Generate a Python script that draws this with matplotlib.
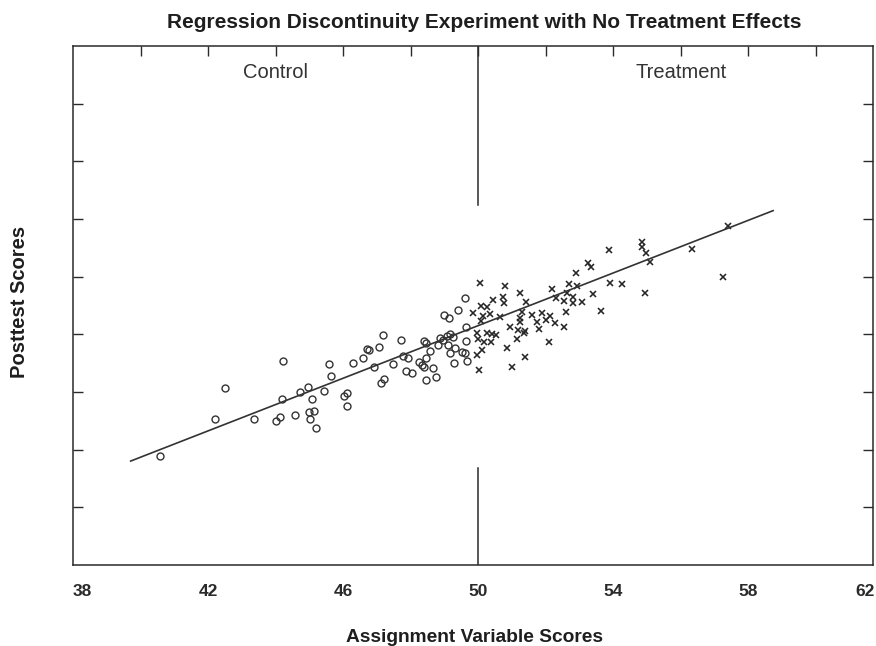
import matplotlib
matplotlib.use("Agg")
import matplotlib.pyplot as plt

plt.rcParams['font.family'] = ['Liberation Sans', 'DejaVu Sans']

# ---- data ----
control_x = [40.56, 42.21, 42.49, 43.35, 44.01, 44.13, 44.20, 44.19, 44.56, 44.73, 44.96, 44.98, 45.12,
             45.02, 45.20, 45.07, 45.42, 45.57, 45.64, 46.01, 46.11, 46.11, 46.30, 46.59, 46.69, 46.77,
             47.06, 46.92, 47.18, 47.71, 47.47, 47.78, 47.91, 47.86, 48.03, 47.20, 47.11, 48.39, 48.46,
             48.57, 48.25, 48.32, 48.46, 48.38, 48.65, 48.44, 48.75, 48.86, 48.96, 49.08, 49.16, 49.26,
             48.81, 49.11, 49.16, 49.31, 49.53, 49.61, 49.63, 49.66, 49.28, 49.61, 49.41, 48.99, 49.14, 49.63]
control_y = [41.54, 44.15, 46.26, 44.15, 43.99, 44.27, 48.17, 45.51, 44.40, 46.02, 46.35, 44.61, 44.70,
             44.13, 43.50, 45.49, 46.07, 47.96, 47.09, 45.74, 45.95, 45.01, 48.03, 48.36, 48.96, 48.91,
             49.10, 47.71, 49.95, 49.59, 47.96, 48.50, 48.38, 47.44, 47.34, 46.88, 46.60, 49.56, 49.38,
             48.84, 48.10, 47.87, 48.38, 47.71, 47.64, 46.83, 47.02, 49.75, 49.61, 49.90, 50.02, 49.84,
             49.26, 49.26, 48.68, 49.03, 48.80, 48.68, 49.56, 48.15, 48.03, 52.50, 51.69, 51.32, 51.11, 50.53]

treat_x = [50.07, 50.25, 50.43, 50.74, 50.76, 51.24, 49.85, 50.15, 50.35, 50.07, 49.95, 50.25, 50.40,
           50.54, 49.98, 50.18, 50.37, 50.10, 49.95, 50.84, 50.99, 50.02, 51.38, 50.94, 51.17, 51.24,
           51.29, 51.43, 51.16, 53.24, 53.34, 52.89, 55.09, 50.05, 50.80, 52.70, 52.93, 53.92, 54.27,
           52.20, 52.62, 53.41, 54.95, 52.32, 52.54, 52.81, 52.80, 53.09, 50.64, 52.60, 53.63, 51.60,
           51.90, 52.12, 52.01, 51.73, 52.29, 52.54, 51.24, 51.40, 51.36, 51.80, 52.10, 57.41, 54.84,
           54.84, 54.97, 53.87, 56.35, 57.26]
treat_y = [51.99, 51.92, 52.38, 52.61, 52.19, 52.85, 51.46, 51.27, 51.41, 50.95, 50.07, 50.07, 50.00,
           49.95, 49.66, 49.49, 49.49, 48.91, 48.57, 49.03, 47.71, 47.53, 48.45, 50.53, 50.30, 51.11,
           51.57, 52.26, 49.66, 54.93, 54.69, 54.27, 55.04, 53.54, 53.37, 53.49, 53.35, 53.54, 53.47,
           53.14, 52.89, 52.80, 52.87, 52.50, 52.33, 52.57, 52.19, 52.22, 51.22, 51.53, 51.64, 51.34,
           51.46, 51.29, 50.99, 50.88, 50.81, 50.49, 50.88, 50.23, 50.07, 50.37, 49.45, 57.53, 56.43,
           56.04, 55.66, 55.85, 55.90, 54.00]

reg_line_x = [39.70, 58.74]
reg_line_y = [41.21, 58.58]

cutoff = 50
cutoff_segments = [(34.0, 40.73), (58.97, 70.0)]

x_tick_labels = ['38', '42', '46', '50', '54', '58', '62']
x_tick_label_pos = [38.26, 42, 46, 50, 54, 58, 61.46]
top_ticks = [40, 42, 44, 46, 48, 50, 52, 54, 56, 58, 60]
y_ticks = [38, 42, 46, 50, 54, 58, 62, 66]

title = "Regression Discontinuity Experiment with No Treatment Effects"
xlabel = "Assignment Variable Scores"
ylabel = "Posttest Scores"

# ---- figure ----
W, H = 876, 646
fig = plt.figure(figsize=(W / 100, H / 100), dpi=100)
ax = fig.add_axes([73.3 / W, (H - 565) / H, (873 - 73.3) / W, (565 - 46) / H])

dark = '#2a2a2a'
ax.set_xlim(38, 61.7)
ax.set_ylim(34, 70)

ax.plot(control_x, control_y, linestyle='none', marker='o', markersize=5.0,
        markerfacecolor='none', markeredgecolor='#333333', markeredgewidth=1.0)
ax.plot(treat_x, treat_y, linestyle='none', marker='x', markersize=4.6,
        color='#262626', markeredgewidth=1.15)
ax.plot(reg_line_x, reg_line_y, color='#333333', linewidth=1.2)

for y0, y1 in cutoff_segments:
    ax.plot([cutoff, cutoff], [y0, y1], color=dark, linewidth=1.1)

for s in ax.spines.values():
    s.set_color(dark)
    s.set_linewidth(1.1)

ax.set_xticks(x_tick_label_pos, x_tick_labels)
ax.tick_params(axis='x', bottom=True, length=0, pad=14, labelsize=12.5,
               labelcolor=dark)
for lbl in ax.get_xticklabels():
    lbl.set_fontweight('bold')

ax.set_yticks(y_ticks)
ax.tick_params(axis='y', left=True, right=True, direction='in', length=7,
               width=1.0, color=dark, labelleft=False)

top = ax.secondary_xaxis('top')
top.set_xticks(top_ticks)
top.tick_params(axis='x', direction='in', length=7, width=1.0, color=dark,
                labeltop=False)
top.spines['top'].set_visible(False)

ax.text(44, 0.948, "Control", transform=ax.get_xaxis_transform(),
        ha='center', va='center', fontsize=14.5, color='#333333')
ax.text(56, 0.948, "Treatment", transform=ax.get_xaxis_transform(),
        ha='center', va='center', fontsize=14.5, color='#333333')

fig.text(484.5 / W, 1 - 22 / H, title, ha='center', va='center',
         fontsize=15, fontweight='bold', color='#1e1e1e')
fig.text(475 / W, 1 - 637 / H, xlabel, ha='center', va='center',
         fontsize=13.8, fontweight='bold', color='#1e1e1e')
fig.text(20 / W, 1 - 302 / H, ylabel, ha='center', va='center', rotation=90,
         fontsize=14.5, fontweight='bold', color='#1e1e1e')

fig.savefig("out.png", dpi=100, facecolor='white')
